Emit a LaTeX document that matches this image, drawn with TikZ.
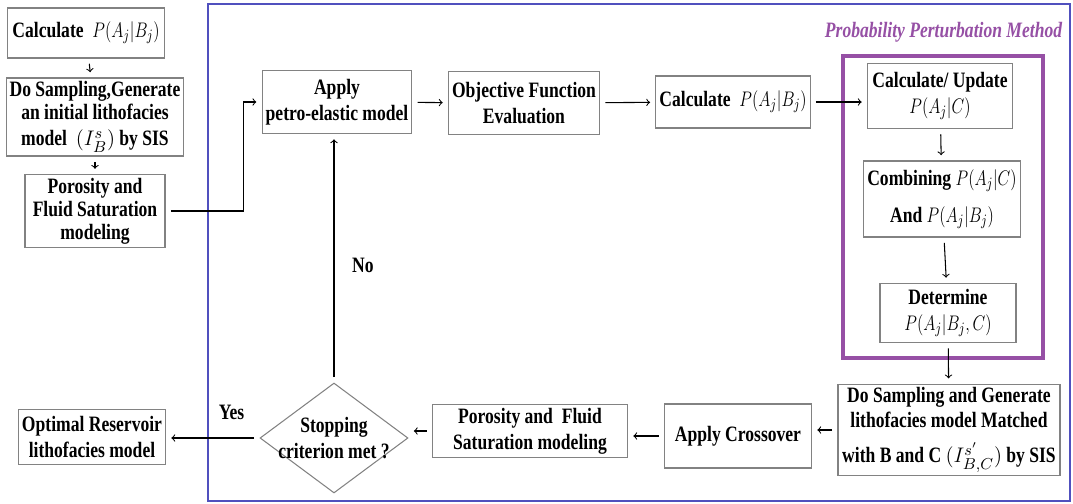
\documentclass[tikz,border=0pt]{standalone}
\usepackage{amsmath}
\usepackage{graphicx}
\usepackage{fontspec}
\setmainfont{Liberation Serif}[FakeStretch=0.8]
\usetikzlibrary{shapes.geometric}
\definecolor{frameblue}{RGB}{80,80,190}
\definecolor{methodpurple}{RGB}{150,80,165}
\definecolor{boxgray}{RGB}{130,130,130}
\newcommand{\prob}[1]{\scalebox{0.78}[1]{$P(#1)$}}

\begin{document}
\begin{tikzpicture}[->, x=0.02cm, y=-0.02cm, inner sep=2pt,
  main node/.style={draw=boxgray, line width=0.6pt, align=center, font=\bfseries\fontsize{12.5}{15}\selectfont},
  left node/.style={main node, font=\bfseries\fontsize{12.5}{13}\selectfont},
  test node/.style={main node, shape=diamond, aspect=1.35, inner sep=-4pt},
  title node/.style={text=methodpurple, font=\bfseries\itshape\fontsize{12.5}{15}\selectfont},
  flow/.style={line width=0.6pt, shorten <=3pt, shorten >=3pt}]
\useasboundingbox (0,0) rectangle (1073,504);

\draw[-, frameblue, line width=1.2pt] (208,4) rectangle (1070,501);
\draw[-, methodpurple, line width=2.2pt] (843,56) rectangle (1043,358);

\node[left node, minimum width=3.14cm, minimum height=1.00cm] (1)  at (86,33)   {Calculate \ \prob{A_j|B_j}};
\node[left node, minimum width=3.50cm, minimum height=1.54cm] (2)  at (95,117)  {Do Sampling,Generate\\an initial lithofacies\\[2pt]model \ $(I_B^{s})$ by SIS};
\node[left node, minimum width=2.80cm, minimum height=1.38cm] (3)  at (95,211)  {Porosity and\\Fluid Saturation\\modeling};
\node[main node, minimum width=2.90cm, minimum height=1.10cm] (4)  at (92,437)  {Optimal Reservoir\\lithofacies model};
\node[main node, minimum width=2.98cm, minimum height=1.26cm] (5)  at (337,102) {Apply\\petro-elastic model};
\node[main node, minimum width=3.02cm, minimum height=1.26cm] (6)  at (524,103) {Objective Function\\Evaluation};
\node[main node, minimum width=3.06cm, minimum height=1.04cm] (7)  at (733,102) {Calculate \ \prob{A_j|B_j}};
\node[main node, minimum width=2.90cm, minimum height=1.30cm] (8)  at (940,96)  {Calculate/ Update\\\prob{A_j|C}};
\node[main node, minimum width=3.04cm, minimum height=1.52cm] (9)  at (942,199) {Combining \prob{A_j|C}\\[6pt]And \prob{A_j|B_j}};
\node[main node, minimum width=2.72cm, minimum height=1.18cm] (10) at (948,313) {Determine\\\prob{A_j|B_j,C}};
\node[main node, minimum width=4.44cm, minimum height=1.62cm] (11) at (949,430) {Do Sampling and Generate\\[-1pt]lithofacies model Matched\\[5pt]with B and C $(I_{B,C}^{s'})$ by SIS};
\node[main node, minimum width=2.94cm, minimum height=1.28cm] (12) at (738,436) {Apply Crossover};
\node[main node, minimum width=3.90cm, minimum height=1.04cm] (13) at (530,431) {Porosity and \ Fluid\\Saturation modeling};
\node[test node, minimum width=2.96cm, minimum height=2.20cm] (14) at (334,438) {Stopping\\criterion met ?};
\node[title node, anchor=east] (15) at (1066,32) {Probability Perturbation Method};

\path[flow]
(1)  edge (2)
(2)  edge (3)
(5)  edge (6)
(6)  edge (7)
(8)  edge (9)
(9)  edge (10)
(10) edge (11)
;
\draw[flow] (3.east) -- ++(78,0) |- (5.west);
\draw[flow] (7.east) -- (7.east -| 8.west);
\draw[flow] (11.west) -- (11.west -| 12.east);
\draw[flow] (12.west) -- (12.west -| 13.east);
\draw[flow] (13.west) -- (13.west -| 14.east);
\draw[flow] (14.west) -- (14.west -| 4.east) node[above=8pt, pos=0.3, font=\bfseries\fontsize{12.5}{15}\selectfont] {Yes};
\draw[flow] (14.north) -- (14.north |- 5.south) node[right=8pt, pos=0.47, font=\bfseries\fontsize{12.5}{15}\selectfont] {No};
\end{tikzpicture}
\end{document}
